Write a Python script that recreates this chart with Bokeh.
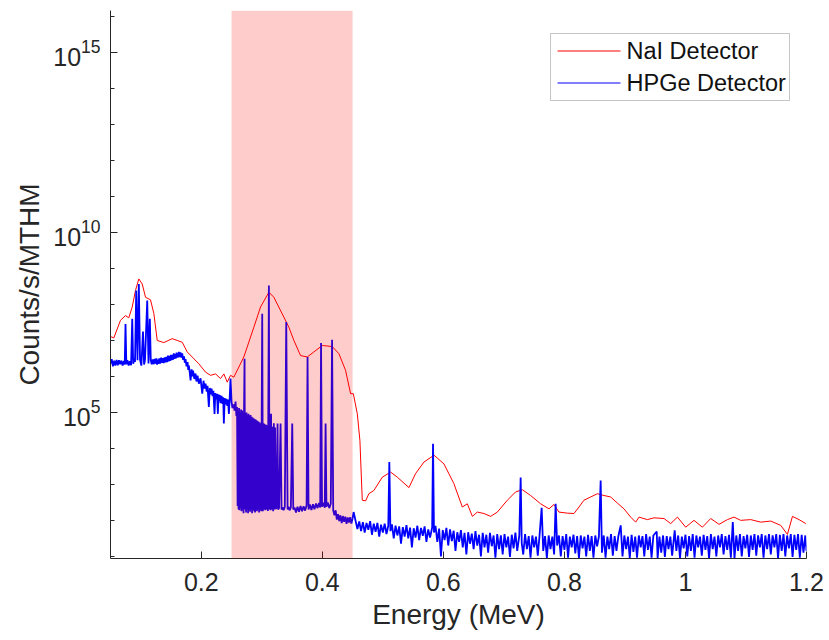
from bokeh.plotting import figure
from bokeh.models import (BoxAnnotation, FixedTicker, CustomJSTickFormatter, Range1d, Label)
from bokeh.embed import file_html
from bokeh.resources import INLINE

# ---------------- data ----------------
x_ticks = [0.2, 0.4, 0.6, 0.8, 1.0, 1.2]
y_major_ticks = [1e5, 1e10, 1e15]
y_minor_ticks = [1e1, 1e2, 1e3, 1e4, 1e5, 1e6, 1e7, 1e8, 1e9, 1e10, 1e11, 1e12,
                 1e13, 1e14, 1e15, 1e16]

highlight_band = [0.25, 0.45]   # MeV, shaded region
series_names = ["NaI Detector", "HPGe Detector"]
series_colors = ["#ff0000", "#0000ff"]

# NaI detector: energy (MeV) and log10(counts/s/MTHM)
nai_energy = [
    0.050, 0.0555, 0.0665, 0.0748, 0.0802, 0.0859, 0.0913, 0.0968, 0.1024, 0.1079,
    0.1161, 0.1216, 0.1272, 0.1381, 0.1520, 0.1602, 0.1685, 0.1768, 0.1850, 0.1960,
    0.2070, 0.2153, 0.2236, 0.2318, 0.2373, 0.2429, 0.2483, 0.2538, 0.2703, 0.2869,
    0.2979, 0.3117, 0.3199, 0.3364, 0.3447, 0.3530, 0.3640, 0.3751, 0.3860, 0.3999,
    0.4164, 0.4274, 0.4384, 0.4467, 0.4512, 0.4578, 0.4621, 0.4660, 0.4715, 0.4769,
    0.4852, 0.4991, 0.5128, 0.5239, 0.5431, 0.5541, 0.5679, 0.5846, 0.6009, 0.6174,
    0.6313, 0.6396, 0.6479, 0.6561, 0.6670, 0.6781, 0.6892, 0.7057, 0.7194, 0.7305,
    0.7442, 0.7607, 0.7745, 0.7827, 0.7910, 0.8049, 0.8158, 0.8241, 0.8323, 0.8434,
    0.8545, 0.8654, 0.8764, 0.8875, 0.8984, 0.9095, 0.9178, 0.9232, 0.9371, 0.9480,
    0.9646, 0.9756, 0.9867, 1.0004, 1.0141, 1.0280, 1.0417, 1.0555, 1.0693, 1.0803,
    1.0913, 1.1079, 1.1244, 1.1409, 1.1574, 1.1685, 1.1768, 1.1877, 1.1988,
]
nai_log10 = [
    7.11, 7.07, 7.56, 7.69, 7.63, 7.93, 8.39, 8.71, 8.57, 8.20,
    8.13, 7.75, 7.00, 6.94, 7.05, 7.00, 6.95, 6.68, 6.54, 6.35,
    6.12, 6.03, 6.07, 5.94, 6.07, 5.84, 6.03, 5.98, 6.54, 7.37,
    7.93, 8.34, 8.20, 7.65, 7.37, 7.00, 6.58, 6.54, 6.68, 6.86,
    6.83, 6.63, 6.17, 5.52, 5.52, 4.96, 4.22, 2.56, 2.54, 2.74,
    2.83, 3.20, 3.34, 3.20, 2.91, 3.30, 3.62, 3.81, 3.57, 3.02,
    2.37, 2.46, 2.11, 2.23, 2.19, 2.11, 2.23, 2.56, 2.79, 2.85,
    2.69, 2.46, 2.32, 2.44, 2.23, 2.20, 2.19, 2.37, 2.56, 2.65,
    2.74, 2.69, 2.65, 2.48, 2.32, 2.09, 1.95, 2.09, 2.02, 2.07,
    2.05, 1.91, 2.09, 1.81, 2.00, 1.81, 2.05, 1.89, 2.02, 2.09,
    2.00, 2.02, 1.95, 1.98, 1.86, 1.61, 2.11, 2.02, 1.91,
]

# HPGe detector: (energy MeV, log10 counts) read segment by segment
hpge_low = [
    (0.050, 6.36), (0.052, 6.48), (0.054, 6.28), (0.056, 6.44), (0.058, 6.30),
    (0.060, 6.46), (0.062, 6.31), (0.064, 6.45), (0.066, 6.34), (0.068, 6.44),
    (0.070, 6.30), (0.072, 6.43), (0.0735, 6.33), (0.0748, 7.46), (0.0762, 6.34),
    (0.078, 6.45), (0.080, 6.30), (0.082, 6.42), (0.084, 6.31), (0.0859, 7.60),
    (0.0875, 6.35), (0.089, 6.50), (0.0905, 6.40), (0.0925, 8.39), (0.0946, 6.45),
    (0.0968, 8.57), (0.0988, 6.46), (0.101, 6.30), (0.1037, 7.25), (0.1055, 6.33),
    (0.107, 6.46), (0.1107, 8.11), (0.1128, 6.36), (0.1150, 7.60), (0.1165, 6.46),
    (0.118, 6.34), (0.1198, 6.47),
]
hpge_continuum = [
    (0.1215, 6.34), (0.1230, 6.49), (0.1244, 6.36), (0.1258, 6.50), (0.1270, 6.33),
    (0.1282, 6.47), (0.1293, 6.35), (0.1306, 6.50), (0.1320, 6.36), (0.1337, 6.52),
    (0.1355, 6.38), (0.1368, 6.51), (0.1380, 6.37), (0.1395, 6.53), (0.1409, 6.39),
    (0.1422, 6.54), (0.1435, 6.40), (0.1450, 6.58), (0.1464, 6.42), (0.1476, 6.57),
    (0.1487, 6.43), (0.1498, 6.60), (0.1508, 6.45), (0.1520, 6.60), (0.1530, 6.46),
    (0.1546, 6.64), (0.1558, 6.49), (0.1570, 6.62), (0.1580, 6.50), (0.1591, 6.66),
    (0.1600, 6.52), (0.1610, 6.64), (0.1620, 6.53), (0.1629, 6.68), (0.1645, 6.54),
    (0.1657, 6.67), (0.1672, 6.52), (0.1685, 6.64), (0.1700, 6.46), (0.1715, 6.56),
    (0.1728, 6.38), (0.1740, 6.48), (0.1756, 6.28), (0.1773, 6.40), (0.1785, 6.18),
    (0.1795, 6.30), (0.1810, 6.10), (0.1823, 5.89), (0.1840, 6.20), (0.1852, 6.00),
    (0.1864, 6.16), (0.1885, 5.93), (0.1905, 6.08), (0.1920, 5.86), (0.1938, 6.02),
    (0.1960, 5.80), (0.1988, 5.95), (0.2016, 5.52), (0.2037, 5.88), (0.2055, 5.66),
    (0.2070, 5.80), (0.2090, 5.58), (0.2103, 5.74), (0.2125, 5.15), (0.2140, 5.68),
    (0.2153, 5.50), (0.2170, 5.66), (0.2186, 5.45), (0.2200, 5.60), (0.2219, 4.96),
    (0.2232, 5.54), (0.2244, 5.36), (0.2260, 5.52), (0.2274, 4.96), (0.2285, 5.50),
    (0.2294, 5.32), (0.2306, 5.48), (0.2318, 5.26), (0.2335, 5.46), (0.2351, 5.24),
    (0.2362, 5.42), (0.2373, 4.69), (0.2387, 5.40), (0.2401, 5.22), (0.2415, 5.38),
    (0.2429, 5.18), (0.2442, 5.36), (0.2456, 4.96),
]
hpge_band = [
    (0.2467, 5.30), (0.2483, 5.94), (0.2500, 5.30), (0.2515, 5.12), (0.2533, 5.22),
    (0.2550, 5.05), (0.2566, 5.30), (0.2580, 4.90), (0.2591, 5.15), (0.2600, 2.40),
    (0.2608, 5.05), (0.2616, 2.30), (0.2624, 5.12), (0.2632, 2.28), (0.2640, 5.00),
    (0.2648, 2.35), (0.2657, 5.08), (0.2665, 2.25), (0.2674, 5.05), (0.2682, 2.30),
    (0.2690, 4.98), (0.2698, 2.20), (0.2706, 5.02), (0.2715, 6.49), (0.2723, 2.30),
    (0.2731, 4.95), (0.2740, 2.22), (0.2748, 5.00), (0.2756, 2.30), (0.2765, 4.92),
    (0.2773, 2.20), (0.2781, 4.96), (0.2789, 2.28), (0.2797, 4.90), (0.2806, 2.24),
    (0.2814, 4.93), (0.2822, 2.30), (0.2831, 4.88), (0.2839, 2.20), (0.2847, 4.86),
    (0.2855, 2.30), (0.2863, 4.84), (0.2872, 2.25), (0.2880, 4.82), (0.2889, 2.22),
    (0.2897, 4.80), (0.2905, 2.28), (0.2913, 4.78), (0.2921, 2.25), (0.2930, 4.76),
    (0.2938, 2.30), (0.2946, 4.74), (0.2955, 2.22), (0.2963, 4.72), (0.2971, 2.28),
    (0.2979, 4.70), (0.2990, 2.25), (0.3007, 7.74), (0.3018, 2.25), (0.3029, 4.70),
    (0.3037, 2.30), (0.3045, 4.68), (0.3058, 2.28), (0.3070, 4.66), (0.3080, 2.30),
    (0.3087, 4.64), (0.3100, 2.26), (0.3117, 8.53), (0.3127, 2.30), (0.3136, 4.62),
    (0.3145, 2.28), (0.3153, 4.96), (0.3165, 2.30), (0.3178, 4.60), (0.3188, 2.25),
    (0.3199, 4.70), (0.3210, 2.30), (0.3219, 4.58), (0.3230, 2.32), (0.3244, 2.35),
    (0.3260, 4.69), (0.3270, 2.30), (0.3285, 2.34), (0.3310, 4.69), (0.3326, 2.30),
    (0.3343, 2.36), (0.3360, 2.28), (0.3380, 2.37), (0.3404, 7.51), (0.3426, 2.30),
    (0.3442, 2.38), (0.3459, 2.28), (0.3480, 2.36), (0.3503, 4.69), (0.3520, 2.30),
]
hpge_floor = [
    (0.3540, 2.36), (0.3565, 2.22), (0.3590, 2.38), (0.3615, 2.24), (0.3640, 2.40),
    (0.3665, 2.25), (0.3690, 2.39), (0.3715, 2.27), (0.3740, 2.42), (0.3756, 6.54),
    (0.3772, 2.30), (0.3795, 2.44), (0.3820, 2.29), (0.3845, 2.45), (0.3870, 2.31),
    (0.3895, 2.47), (0.3920, 2.34), (0.3945, 2.48), (0.3965, 2.36), (0.3979, 6.93),
    (0.3995, 2.38), (0.4020, 2.49), (0.4040, 2.35), (0.4054, 4.69), (0.4068, 2.38),
    (0.4090, 2.50), (0.4115, 2.34), (0.4140, 2.46), (0.4161, 7.02), (0.4180, 2.28),
    (0.4200, 2.14), (0.4220, 2.28), (0.4240, 2.02), (0.4260, 2.17), (0.4280, 1.98),
    (0.4300, 2.14), (0.4320, 1.92), (0.4340, 2.12), (0.4360, 1.96), (0.4380, 2.10),
    (0.4400, 1.90), (0.4420, 2.08), (0.4440, 1.94), (0.4460, 2.09), (0.4480, 1.91),
    (0.4500, 2.06), (0.4517, 2.23),
]
hpge_high = [
    (0.455, 1.98), (0.458, 1.76), (0.461, 1.97), (0.464, 1.70), (0.467, 1.95),
    (0.470, 1.66), (0.473, 1.93), (0.476, 1.74), (0.479, 1.98), (0.482, 1.60),
    (0.485, 1.91), (0.488, 1.68), (0.491, 1.93), (0.494, 1.55), (0.497, 1.88),
    (0.500, 1.66), (0.503, 1.91), (0.506, 1.62), (0.509, 1.85), (0.5107, 3.62),
    (0.5125, 1.70), (0.515, 1.89), (0.518, 1.50), (0.521, 1.85), (0.524, 1.58),
    (0.527, 1.83), (0.530, 1.35), (0.533, 1.81), (0.536, 1.55), (0.539, 1.87),
    (0.542, 1.50), (0.545, 1.80), (0.548, 1.25), (0.551, 1.78), (0.554, 1.52),
    (0.557, 1.85), (0.560, 1.45), (0.563, 1.79), (0.566, 1.57), (0.569, 1.83),
    (0.572, 1.40), (0.575, 1.75), (0.578, 1.52), (0.5815, 1.80), (0.5829, 4.13),
    (0.5845, 1.66), (0.587, 1.85), (0.590, 1.40), (0.593, 1.77), (0.596, 1.00),
    (0.599, 1.73), (0.602, 1.45), (0.605, 1.79), (0.608, 1.30), (0.611, 1.75),
    (0.614, 1.42), (0.617, 1.71), (0.620, 1.15), (0.623, 1.67), (0.626, 1.40),
    (0.629, 1.73), (0.632, 1.25), (0.635, 1.65), (0.638, 1.05), (0.641, 1.67),
    (0.644, 1.35), (0.647, 1.63), (0.650, 1.20), (0.653, 1.70), (0.656, 1.30),
    (0.659, 1.60), (0.662, 1.00), (0.665, 1.65), (0.668, 1.25), (0.671, 1.60),
    (0.674, 1.10), (0.677, 1.65), (0.680, 1.28), (0.683, 1.58), (0.686, 0.96),
    (0.689, 1.62), (0.692, 1.20), (0.695, 1.58), (0.698, 1.05), (0.701, 1.62),
    (0.704, 1.25), (0.707, 1.55), (0.710, 0.98), (0.713, 1.60), (0.716, 1.22),
    (0.719, 1.66), (0.722, 1.15), (0.7255, 1.58), (0.7277, 3.19), (0.7295, 1.36),
    (0.732, 1.05), (0.735, 1.62), (0.738, 1.20), (0.741, 1.56), (0.744, 0.96),
    (0.747, 1.58), (0.750, 1.25), (0.753, 1.55), (0.756, 1.02), (0.759, 1.60),
    (0.7624, 2.35), (0.765, 1.15), (0.768, 1.56), (0.771, 0.95), (0.774, 1.58),
    (0.777, 1.20), (0.780, 1.55), (0.783, 1.05), (0.7855, 2.46), (0.788, 1.30),
    (0.791, 1.58), (0.794, 1.00), (0.797, 1.56), (0.800, 1.18), (0.803, 1.62),
    (0.806, 0.96), (0.809, 1.55), (0.812, 1.25), (0.815, 1.60), (0.818, 1.08),
    (0.821, 1.56), (0.824, 0.95), (0.827, 1.58), (0.830, 1.22), (0.833, 1.55),
    (0.836, 1.00), (0.839, 1.60), (0.842, 1.15), (0.845, 1.56), (0.848, 0.96),
    (0.851, 1.58), (0.854, 1.28), (0.857, 1.55), (0.8599, 3.11), (0.862, 1.10),
    (0.865, 1.58), (0.868, 0.96), (0.871, 1.55), (0.874, 1.20), (0.877, 1.62),
    (0.880, 1.02), (0.883, 1.56), (0.886, 1.15), (0.889, 1.55), (0.893, 1.86),
    (0.896, 1.00), (0.899, 1.58), (0.902, 1.20), (0.905, 1.55), (0.908, 0.95),
    (0.911, 1.60), (0.914, 1.12), (0.917, 1.55), (0.920, 0.96), (0.923, 1.58),
    (0.926, 1.25), (0.929, 1.56), (0.932, 1.00), (0.935, 1.62), (0.938, 1.18),
    (0.941, 1.55), (0.944, 0.96), (0.947, 1.58), (0.9525, 1.69), (0.954, 0.94),
    (0.957, 1.55), (0.960, 1.10), (0.963, 1.58), (0.966, 0.98), (0.969, 1.56),
    (0.972, 1.20), (0.975, 1.55), (0.978, 1.02), (0.9822, 1.72), (0.985, 1.15),
    (0.988, 1.58), (0.991, 0.95), (0.994, 1.55), (0.997, 1.22), (1.000, 1.60),
    (1.003, 1.00), (1.006, 1.56), (1.009, 1.15), (1.012, 1.62), (1.015, 0.96),
    (1.018, 1.58), (1.021, 1.25), (1.024, 1.55), (1.027, 1.02), (1.030, 1.60),
    (1.033, 1.18), (1.036, 1.56), (1.039, 0.95), (1.042, 1.62), (1.045, 1.20),
    (1.048, 1.55), (1.051, 1.00), (1.054, 1.58), (1.057, 1.25), (1.060, 1.62),
    (1.063, 1.05), (1.066, 1.56), (1.069, 1.18), (1.072, 1.60), (1.075, 0.96),
    (1.0782, 1.95), (1.081, 0.94), (1.084, 1.58), (1.087, 1.15), (1.090, 1.62),
    (1.093, 1.00), (1.096, 1.56), (1.099, 1.22), (1.102, 1.60), (1.105, 0.98),
    (1.108, 1.58), (1.111, 1.18), (1.114, 1.62), (1.117, 1.02), (1.120, 1.58),
    (1.123, 1.25), (1.126, 1.62), (1.129, 0.96), (1.132, 1.58), (1.135, 1.20),
    (1.138, 1.62), (1.141, 1.05), (1.144, 1.58), (1.147, 1.25), (1.150, 1.62),
    (1.153, 0.95), (1.156, 1.60), (1.159, 1.15), (1.162, 1.62), (1.165, 1.00),
    (1.168, 1.58), (1.171, 1.22), (1.174, 1.62), (1.177, 0.98), (1.180, 1.60),
    (1.183, 1.18), (1.186, 1.62), (1.189, 0.96), (1.192, 1.60), (1.195, 1.10),
    (1.198, 1.58), (1.200, 1.15),
]

# ---------------- build ----------------
nai_counts = [10 ** v for v in nai_log10]
hpge_all = hpge_low + hpge_continuum + hpge_band + hpge_floor + hpge_high
hpge_energy = [e for e, _ in hpge_all]
hpge_counts = [10 ** v for _, v in hpge_all]

FONT = "Liberation Sans"
AX = "#262626"

p = figure(width=829, height=640, y_axis_type="log", output_backend="svg",
           toolbar_location=None,
           x_range=Range1d(0.05, 1.2), y_range=Range1d(8.7, 1.48e16),
           min_border_left=110, min_border_right=23, min_border_top=10,
           min_border_bottom=82)
p.outline_line_color = None
p.xgrid.visible = False
p.ygrid.visible = False
p.background_fill_color = "white"
p.border_fill_color = "white"

p.line(nai_energy, nai_counts, line_color=series_colors[0], line_width=1)
p.line(hpge_energy, hpge_counts, line_color=series_colors[1], line_width=1.8)

band = BoxAnnotation(left=highlight_band[0], right=highlight_band[1],
                     fill_color="#ff0000", fill_alpha=0.2, line_alpha=0)
p.add_layout(band)

# axes
for ax in (p.xaxis[0], p.yaxis[0]):
    ax.axis_line_color = AX
    ax.major_tick_line_color = AX
    ax.minor_tick_line_color = AX
    ax.major_tick_in = 7
    ax.major_tick_out = 0
    ax.minor_tick_in = 4
    ax.minor_tick_out = 0
    ax.major_label_text_font = FONT
    ax.major_label_text_font_size = "25px"
    ax.major_label_text_color = AX
    ax.axis_label_text_font = FONT
    ax.axis_label_text_font_size = "28px"
    ax.axis_label_text_font_style = "normal"
    ax.axis_label_text_color = AX

p.xaxis.ticker = FixedTicker(ticks=x_ticks)
p.xaxis.formatter = CustomJSTickFormatter(code="return String(Math.round(tick*10)/10);")
p.xaxis.minor_tick_line_color = None
p.xaxis.major_label_standoff = 14
p.xaxis.axis_label = "Energy (MeV)"
p.xaxis.axis_label_standoff = 5

p.yaxis.ticker = FixedTicker(ticks=y_major_ticks, minor_ticks=y_minor_ticks)
p.yaxis.major_label_standoff = 10
p.yaxis.axis_label = "Counts/s/MTHM"
p.yaxis.axis_label_standoff = 5

# legend box (frame-relative screen units, origin bottom-left of the plot frame)
S = dict(left_units="screen", right_units="screen",
         bottom_units="screen", top_units="screen")
p.add_layout(BoxAnnotation(left=440, right=679, bottom=458, top=525,
                           fill_color="white", fill_alpha=1,
                           line_color="#404040", line_width=1, **S))
swatch_rows = [(507, 508), (475, 476)]
label_baselines = [507.5, 476]
for name, color, (b, t), yb in zip(series_names, series_colors, swatch_rows,
                                    label_baselines):
    p.add_layout(BoxAnnotation(left=447, right=510, bottom=b, top=t,
                               fill_color=color, fill_alpha=1, line_alpha=0, **S))
    p.add_layout(Label(x=516, y=yb, x_units="screen", y_units="screen",
                       text=name, text_font=FONT, text_font_size="23.5px",
                       text_color="#111111", text_baseline="alphabetic"))

open("out.html", "w").write(file_html(p, INLINE))
